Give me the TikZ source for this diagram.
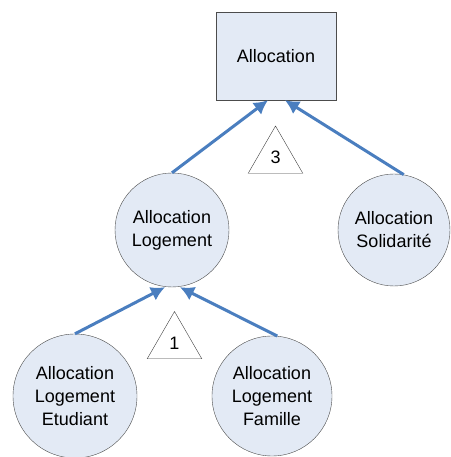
\documentclass[tikz,border=0pt]{standalone}
\usepackage{fontspec}
\setmainfont{Liberation Sans}
\usepackage{xcolor}
\usepackage{tikz}
\usetikzlibrary{shapes.geometric, arrows.meta}
\definecolor{boxfill}{HTML}{E3EAF5}
\definecolor{linkblue}{HTML}{4A7EBF}
\tikzstyle{classe} = [rectangle, minimum width=120pt, minimum height=88pt, text centered, draw=black!70, fill=boxfill, font=\fontsize{18}{23}\selectfont]
\tikzstyle{sousclasse} = [circle, inner sep=0pt, text centered, align=center, draw=black!70, fill=boxfill, font=\fontsize{18}{23}\selectfont]
\tikzstyle{ordre} = [regular polygon, regular polygon sides=3, minimum size=63pt, inner sep=0pt, draw=black!75, fill=white, font=\fontsize{18}{22}\selectfont]
\tikzstyle{arrow} = [line width=3pt, draw=linkblue, -{Latex[length=14pt,width=15pt]}]

\begin{document}
\begin{tikzpicture}[x=1pt, y=1pt]
		\useasboundingbox (0,0) rectangle (450,457);
		
		\node (alloc) [classe] at (276,401) {Allocation};
		\node (logement) [sousclasse, minimum size=114pt] at (172,227) {Allocation\\Logement};
		\node (solidarite) [sousclasse, minimum size=112pt] at (394,227) {Allocation\\Solidarit\'e};
		\node (etudiant) [sousclasse, minimum size=124pt] at (75,61) {Allocation\\Logement\\Etudiant};
		\node (famille) [sousclasse, minimum size=120pt] at (272,61) {Allocation\\Logement\\Famille};
		\node (ordre3) [ordre] at (275.5,299.5) {3};
		\node (ordre1) [ordre] at (174.5,114) {1};
		
		\draw [arrow] (logement.north) -- ([xshift=-8pt]alloc.south);
		\draw [arrow] (solidarite.80) -- ([xshift=9pt]alloc.south);
		\draw [arrow] (etudiant.north) -- ([xshift=-7pt]logement.south);
		\draw [arrow] (famille.85) -- ([xshift=8pt]logement.south);
		
	\end{tikzpicture}
\end{document}
